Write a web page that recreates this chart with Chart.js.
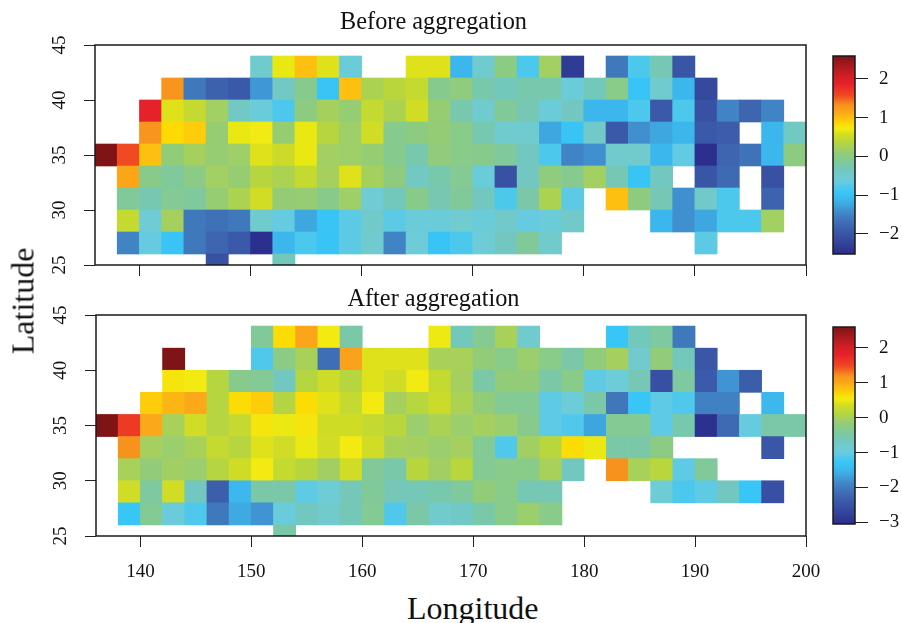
<!DOCTYPE html>
<html>
<head>
<meta charset="utf-8">
<script src="https://cdn.jsdelivr.net/npm/chart.js@4"></script>
<style>
  html, body { margin: 0; padding: 0; background: #fff; overflow: hidden; }
  canvas { position: absolute; }
  .axis-label { position: absolute; font: 32px "Liberation Serif"; color: #111; white-space: nowrap; }
  .panel-title { position: absolute; left: 433.5px; transform: translateX(-50%); font: 24.3px/28px "Liberation Serif"; color: #111; white-space: nowrap; }
</style>
</head>
<body>
<canvas id="panelBefore" style="left:0;top:0"></canvas>
<canvas id="panelAfter" style="left:0;top:270px"></canvas>
<canvas id="barBefore" style="left:820px;top:45px"></canvas>
<canvas id="barAfter" style="left:820px;top:315px"></canvas>
<div class="panel-title" style="top:7px">Before aggregation</div>
<div class="panel-title" style="top:284px">After aggregation</div>
<div class="axis-label" style="left:407px;top:590px">Longitude</div>
<div class="axis-label" style="left:23px;top:301px;transform:translate(-50%,-50%) rotate(-90deg)">Latitude</div>
<script>
const _ = null;
const lons = [137,139,141,143,145,147,149,151,153,155,157,159,161,163,165,167,169,171,173,175,177,179,181,183,185,187,189,191,193,195,197,199];
const lats = [43,41,39,37,35,33,31,29,27,25];
const lonTicks = [140,150,160,170,180,190,200];
const latTicks = [25,30,35,40,45];
const beforeTicks = [-2,-1,0,1,2];
const afterTicks = [-3,-2,-1,0,1,2];
const beforeRange = [-2.52, 2.59];
const afterRange = [-3.05, 2.6];

// before aggregation, one list per latitude band
const before43 = [_,_,_,_,_,_,_,-.5,.67,1.0,.62,-.6,_,_,.62,.62,-1.1,-.5,.02,-.8,.2,-2.35,_,-1.6,-.8,-.3,-2.0,_,_,_,_,_];
const before41 = [_,_,_,1.3,-1.6,-1.85,-1.95,-1.35,-.4,-.05,-.95,1.0,.27,.37,.47,-.05,.05,-.25,-.35,-.25,-.25,-.6,-.35,-.02,-.95,-.5,-1.1,-2.15,_,_,_,_];
const before39 = [_,_,1.87,.62,.47,.2,-.4,-.6,-.8,.03,.22,.12,.47,.27,.55,.12,-.25,-.5,-.12,-.3,-.6,-.38,-1.1,-1.1,-.8,-1.95,-.8,-2.05,-1.5,-1.8,-1.5,_];
const before37 = [_,_,1.3,.83,.92,.12,.67,.72,.12,.67,.35,.17,.55,-.05,.03,.1,-.02,-.28,-.5,-.5,-1.25,-.95,-.45,-1.95,-1.4,-1.25,-1.1,-1.95,-1.9,_,-1.1,-.4];
const before35 = [2.59,1.57,1.0,.08,.22,.12,.17,.62,.52,.67,.2,.17,.12,-.05,-.25,.06,-.02,-.05,-.15,-.38,-.8,-1.5,-1.4,-.48,-.48,-1.1,-.7,-2.5,-1.8,-1.65,-1.1,.03];
const before33 = [_,1.15,-.03,-.15,0,.2,.12,.35,.27,.47,.22,.62,.22,.04,-.4,-.25,-.08,-.6,-2.05,-.38,.05,-.06,.2,-.3,-.95,-.38,_,-2.0,-1.75,_,-2.05,_];
const before31 = [_,-.12,-.27,-.1,-.15,.12,.27,.55,.1,.12,-.03,.17,-.55,-.35,-.03,-.27,-.12,-.38,-.8,-.22,.27,-.72,_,1.0,.04,-.3,-1.4,-.45,-.8,_,-1.82,_];
const before29 = [_,.47,-.55,.22,-1.6,-1.68,-1.6,-.5,-.68,-1.25,-.95,-.72,-.45,-.72,-.6,-.6,-.52,-.6,-.45,-.68,-.6,-.45,_,_,_,-1.1,-1.4,-1.25,-.8,-.8,.2,_];
const before27 = [_,-1.5,-.68,-.95,-1.6,-1.8,-1.95,-2.5,-1.1,-.82,-.95,-.72,-.5,-1.5,-.58,-.95,-.8,-.58,-.38,-.12,-.48,_,_,_,_,_,_,-.72,_,_,_,_];
const before25 = [_,_,_,_,_,-2.05,_,_,-.35,_,_,_,_,_,_,_,_,_,_,_,_,_,_,_,_,_,_,_,_,_,_,_];

// after aggregation
const after43 = [_,_,_,_,_,_,_,-.4,.65,1.02,.54,-.5,_,_,_,.5,-.65,-.35,0,-.8,_,_,_,-1.3,-.65,-.45,-2.03,_,_,_,_,_];
const after41 = [_,_,_,2.6,_,_,_,-1.13,-.25,0,-2.15,1.05,.42,.42,.42,0,0,-.17,-.28,-.1,-.28,-.5,-.2,-.03,-.8,-.17,-.65,-2.45,_,_,_,_];
const after39 = [_,_,_,.58,.54,.11,-.3,-.37,-.68,.11,.32,.12,.42,.34,.54,.25,-.03,-.5,-.17,-.17,-.5,-.28,-1.05,-.92,-.6,-2.54,-.45,-2.38,-1.78,-2.35,_,_];
const after37 = [_,_,.75,.9,1.0,.11,.65,.75,.1,.65,.42,.25,.54,-.03,.14,.3,.03,-.17,-.37,-.37,-1.05,-.92,-.5,-2.05,-1.3,-1.05,-1.13,-1.95,-1.95,_,-1.47,_];
const after35 = [2.6,1.6,1.0,0,.34,.11,.25,.58,.48,.58,.33,.33,.25,.15,-.1,.03,-.1,-.03,-.1,-.3,-1.05,-1.13,-1.65,-.37,-.37,-1.05,-.55,-3.0,-2.2,-1.0,-.5,-.5];
const after33 = [_,1.19,-.03,-.1,0,.25,.12,.42,.34,.48,.34,.54,.34,0,-.03,-.1,-.03,-.37,-1.13,-.05,.15,.65,.48,-.5,-.5,-.25,_,_,_,_,-2.45,_];
const after31 = [_,0,-.17,-.05,-.1,.11,.33,.54,.25,.13,-.05,.34,-.4,-.52,.13,-.05,.15,-.37,-.28,-.28,0,-.68,_,1.19,0,.15,-1.05,-.4,_,_,_,_];
const after29 = [_,.34,-.45,.34,-.68,-2.33,-1.47,-.5,-.5,-1.05,-.9,-.62,-.4,-.62,-.62,-.55,-.42,-.17,-.28,-.6,-.6,_,_,_,_,-.9,-1.15,-1.05,-.68,-1.3,-2.54,_];
const after27 = [_,-1.3,-.37,-.95,-1.13,-2.03,-1.62,-1.78,-.95,-.68,-.8,-.62,-.37,-1.13,-.5,-.8,-.72,-.52,-.28,-.1,-.28,_,_,_,_,_,_,_,_,_,_,_];
const after25 = [_,_,_,_,_,_,_,_,-.5,_,_,_,_,_,_,_,_,_,_,_,_,_,_,_,_,_,_,_,_,_,_,_];

const beforeRows = [before43,before41,before39,before37,before35,before33,before31,before29,before27,before25];
const afterRows = [after43,after41,after39,after37,after35,after33,after31,after29,after27,after25];

// colour map, position 0 = bottom of the colour bar
const cmapPos = [0,.09,.13,.18,.22,.25,.28,.31,.34,.36,.39,.42,.45,.48,.51,.535,.56,.585,.60,.615,.625,.635,.655,.68,.72,.75,.80,.86,.90,1];
const cmapHex = ["#2a2e8c","#3850a3","#3c60ad","#4078bc","#4090d0","#3ea8e0","#3cb8ee","#38c6f6","#50c8ec","#66cbe0","#70ccd2","#72c8c0","#7ac8a8","#85ca90","#92cc78","#a5d060","#b5d540","#c5da30","#d0dc25","#e0e21a","#ebe812","#f3ea12","#fcdc05","#fdc60d","#fba51a","#f7941d","#f04a22","#e6202a","#d01f26","#7f1416"];

function cmapColor(t) {
  const rgb = h => [1,3,5].map(i => parseInt(h.substr(i,2),16));
  let i = 0;
  while (i < cmapPos.length - 2 && t > cmapPos[i+1]) i++;
  const f = Math.min(1, Math.max(0, (t - cmapPos[i]) / (cmapPos[i+1] - cmapPos[i])));
  const a = rgb(cmapHex[i]), b = rgb(cmapHex[i+1]);
  return `rgb(${a.map((c,k) => Math.round(c + (b[k]-c)*f)).join(",")})`;
}

const frame = {
  id: "frame",
  afterDatasetsDraw(chart) {
    const a = chart.chartArea, c = chart.ctx;
    c.save();
    c.strokeStyle = "#1a1a1a";
    c.lineWidth = 1.5;
    c.strokeRect(a.left, a.top, a.right - a.left, a.bottom - a.top);
    c.restore();
  }
};

const tickFont = { family: "Liberation Serif", size: 19 };
const fixTicks = vals => s => { s.ticks = vals.map(v => ({ value: v })); };
const minus = v => String(v).replace("-", "\u2212");

function heatmap(id, rows, range, left, height, xHeight, showLabels) {
  const cells = [];
  rows.forEach((row, r) => row.forEach((v, c) => {
    if (v !== null) cells.push({ x: lons[c], y: [lats[r]-1, lats[r]+1], v: v });
  }));
  const el = document.getElementById(id);
  el.width = 866; el.height = height;
  return new Chart(el, {
    type: "bar",
    data: { datasets: [{
      data: cells,
      barPercentage: 1,
      categoryPercentage: 1,
      grouped: false,
      backgroundColor: ctx => ctx.raw ? cmapColor((ctx.raw.v - range[0]) / (range[1] - range[0])) : "#fff"
    }] },
    options: {
      responsive: false,
      animation: false,
      layout: { padding: { top: 45, right: 60 } },
      plugins: { legend: { display: false }, tooltip: { enabled: false } },
      scales: {
        x: {
          type: "linear", min: 136, max: 200, offset: false,
          grid: { drawOnChartArea: false, offset: false, tickLength: 11, tickColor: "#222" },
          border: { display: false },
          afterBuildTicks: fixTicks(lonTicks),
          afterFit: s => { s.height = xHeight; s.paddingLeft = 0; s.paddingRight = 0; },
          ticks: { display: showLabels, color: "#111", font: tickFont, padding: 14, maxRotation: 0 }
        },
        y: {
          min: 25, max: 45,
          grid: { drawOnChartArea: false, tickLength: 11, tickColor: "#222" },
          border: { display: false },
          afterBuildTicks: fixTicks(latTicks),
          afterFit: s => { s.width = left; s.paddingTop = 0; s.paddingBottom = 0; },
          ticks: { color: "#111", font: tickFont, padding: 14, minRotation: 90, maxRotation: 90, crossAlign: "center" }
        }
      }
    },
    plugins: [frame]
  });
}

function colorBar(id, range, ticks, padTop) {
  const el = document.getElementById(id);
  el.width = 82; el.height = 220;
  return new Chart(el, {
    type: "bar",
    data: { labels: [""], datasets: [{
      data: [range],
      barPercentage: 1,
      categoryPercentage: 1,
      backgroundColor: ctx => {
        const a = ctx.chart.chartArea;
        if (!a) return "#fff";
        const g = ctx.chart.ctx.createLinearGradient(0, a.bottom, 0, a.top);
        cmapPos.forEach((p, i) => g.addColorStop(p, cmapHex[i]));
        return g;
      }
    }] },
    options: {
      responsive: false,
      animation: false,
      layout: { padding: { left: 13, top: padTop, bottom: 11 } },
      plugins: { legend: { display: false }, tooltip: { enabled: false } },
      scales: {
        x: { display: false },
        y: {
          position: "right", min: range[0], max: range[1],
          grid: { drawOnChartArea: false, tickLength: 13, tickColor: "#222" },
          border: { display: false },
          afterBuildTicks: fixTicks(ticks),
          afterFit: s => { s.width = 47; s.paddingTop = 0; s.paddingBottom = 0; },
          ticks: { color: "#111", font: tickFont, padding: 11, callback: minus }
        }
      }
    },
    plugins: [frame]
  });
}

heatmap("panelBefore", beforeRows, beforeRange, 95, 290, 25, false);
heatmap("panelAfter", afterRows, afterRange, 96, 320, 54, true);
colorBar("barBefore", beforeRange, beforeTicks, 11);
colorBar("barAfter", afterRange, afterTicks, 12);
</script>
</body>
</html>
